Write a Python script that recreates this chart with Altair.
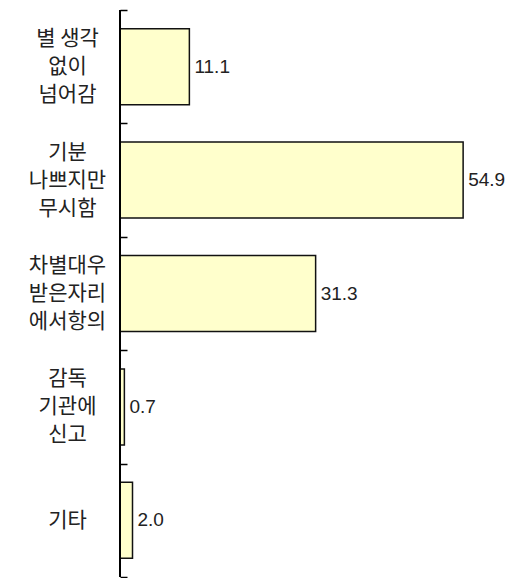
import altair as alt
import pandas as pd

categories = ["별 생각\n없이\n넘어감", "기분\n나쁘지만\n무시함", "차별대우\n받은자리\n에서항의", "감독\n기관에\n신고", "기타"]
values = [11.1, 54.9, 31.3, 0.7, 2.0]
labels = ["11.1", "54.9", "31.3", "0.7", "2.0"]

df = pd.DataFrame({"cat": categories, "val": values, "lab": labels})

W, H = 375, 567
LH = 28

y_enc = alt.Y(
    "cat:N",
    sort=categories,
    title=None,
    scale=alt.Scale(paddingInner=0, paddingOuter=0),
    axis=alt.Axis(
        domain=False,
        ticks=True,
        tickBand="extent",
        tickSize=7,
        tickColor="#000000",
        tickWidth=1.5,
        offset=-7,
        labelExpr="split(datum.label, '\\n')",
        labelAlign="center",
        labelBaseline="middle",
        labelPadding=53,
        labelFontSize=21,
        labelFont="Noto Sans CJK KR",
        labelFontWeight="normal",
        labelColor="#222222",
        labelLineHeight=LH,
        labelOffset={
            "condition": {"test": "indexof(datum.label, '\\n') < 0", "value": 0},
            "value": -LH,
        },
    ),
)
x_enc = alt.X("val:Q", scale=alt.Scale(domain=[0, 60], nice=False), axis=None)

base = alt.Chart(df)

bars = base.mark_bar(
    fill="#FFFFCC", stroke="#111111", strokeWidth=1.5, height={"band": 0.67}
).encode(x=x_enc, y=y_enc)

text = base.mark_text(
    align="left", baseline="middle", dx=5, fontSize=19,
    font="Liberation Sans", color="#222222"
).encode(x=x_enc, y=alt.Y("cat:N", sort=categories), text="lab:N")

domain_line = base.mark_rule(color="#000000", strokeWidth=1.5).encode(
    x=alt.value(0), y=alt.value(0), y2=alt.value(H)
)

chart = (
    alt.layer(bars, text, domain_line)
    .properties(
        width=W,
        height=H,
        autosize=alt.AutoSizeParams(type="none"),
        padding={"left": 112, "top": 2, "right": 10, "bottom": 2},
    )
    .configure_view(stroke=None)
)

chart.save("out.html", embed_options={"renderer": "svg", "actions": False})
